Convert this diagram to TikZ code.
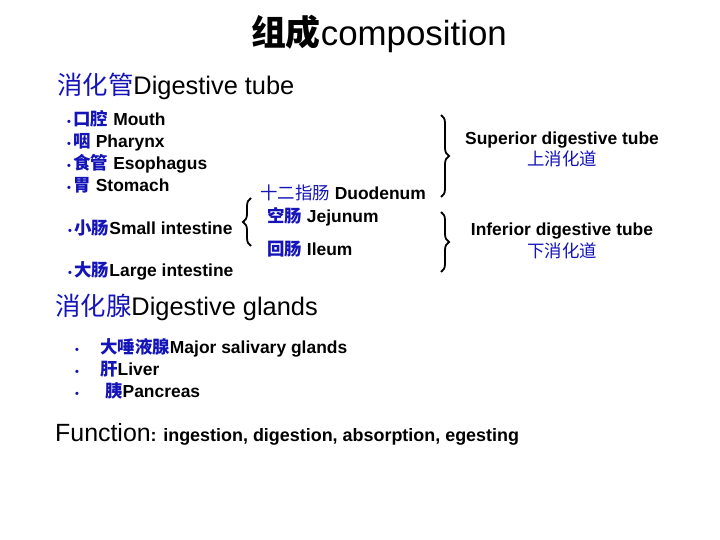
\documentclass[tikz,border=0pt]{standalone}
\usepackage{fontspec}
\setmainfont{Liberation Sans}
\newfontfamily\cjk{Noto Sans CJK SC}
\usepackage{tikz}
\usetikzlibrary{decorations.pathreplacing,positioning}
\usepackage{xcolor}
\definecolor{zhblue}{HTML}{1414B8}
\newcommand\zhtext[1]{{\cjk\color{zhblue}#1}}
\newcommand\zhthin[1]{{\cjk\mdseries\color{zhblue}#1}}
\newcommand\dotmark{{\color{zhblue}\fontsize{11}{11}\selectfont\textbullet}\hspace{2.5bp}}
\tikzset{
  titletext/.style={
    anchor=base,
    inner sep=0pt,
    font=\fontsize{35}{35}\selectfont
  },
  headtext/.style={
    anchor=base west,
    inner sep=0pt,
    font=\fontsize{25.5}{25.5}\selectfont
  },
  itemtext/.style={
    anchor=base west,
    inner sep=0pt,
    font=\fontsize{17.5}{17.5}\selectfont\bfseries
  },
  sidetext/.style={
    anchor=base,
    inner sep=0pt,
    align=center,
    font=\fontsize{17.5}{17.5}\selectfont\bfseries
  },
  curly/.style={
    decorate,
    decoration={brace,amplitude=8bp},
    line width=1.8bp,
    draw=black
  }
}

\begin{document}
\begin{tikzpicture}[x=1bp,y=-1bp]
\useasboundingbox (0,0) rectangle (720,540);
% heading
\node[titletext] (title) at (379,46) {{\cjk\bfseries 组成}composition};
\node[headtext] (tube) at (57,95) {\zhthin{消化管}Digestive tube};
% digestive tube
\node[itemtext] (mouth) at (67,126) {\dotmark\zhtext{口腔} Mouth};
\node[itemtext] (pharynx) at (67,148) {\dotmark\zhtext{咽} Pharynx};
\node[itemtext] (esophagus) at (67,170) {\dotmark\zhtext{食管} Esophagus};
\node[itemtext] (stomach) at (67,192) {\dotmark\zhtext{胃} Stomach};
\node[itemtext] (small) at (68,235) {\dotmark\zhtext{小肠}Small intestine};
\node[itemtext] (large) at (68,277) {\dotmark\zhtext{大肠}Large intestine};
% parts of the small intestine
\node[itemtext] (duodenum) at (260,200) {\zhthin{十二指肠} Duodenum};
\node[itemtext] (jejunum) at (267,223) {\zhtext{空肠} Jejunum};
\node[itemtext] (ileum) at (267,256) {\zhtext{回肠} Ileum};
\coordinate (smalltop) at (251,198);
\coordinate (smallbot) at (251,246);
\draw[curly] (smallbot) -- (smalltop);
% upper and lower tube
\coordinate (suptop) at (441,115);
\coordinate (supbot) at (441,197);
\coordinate (inftop) at (441,212);
\coordinate (infbot) at (441,272);
\draw[curly] (suptop) -- (supbot);
\draw[curly] (inftop) -- (infbot);
\node[sidetext] (superior) at (562,145) {Superior digestive tube};
\node[sidetext] (superiorzh) at (562,166) {\zhthin{上消化道}};
\node[sidetext] (inferior) at (562,236) {Inferior digestive tube};
\node[sidetext] (inferiorzh) at (562,258) {\zhthin{下消化道}};
% digestive glands
\node[headtext] (glands) at (55,315) {\zhthin{消化腺}Digestive glands};
\node[itemtext] (salivary) at (100,353) {\zhtext{大唾液腺}Major salivary glands};
\node[itemtext] (liver) at (100,375) {\zhtext{肝}Liver};
\node[itemtext] (pancreas) at (105,397) {\zhtext{胰}Pancreas};
\foreach \y/\name in {353/a,375/b,397/c}
  \node[itemtext] (dot\name) at (75,\y) {\dotmark};
% function
\node[itemtext] (function) at (55,441)
  {\fontsize{18}{18}\selectfont{\mdseries\fontsize{25}{25}\selectfont Function}: ingestion, digestion, absorption, egesting};
\end{tikzpicture}
\end{document}
